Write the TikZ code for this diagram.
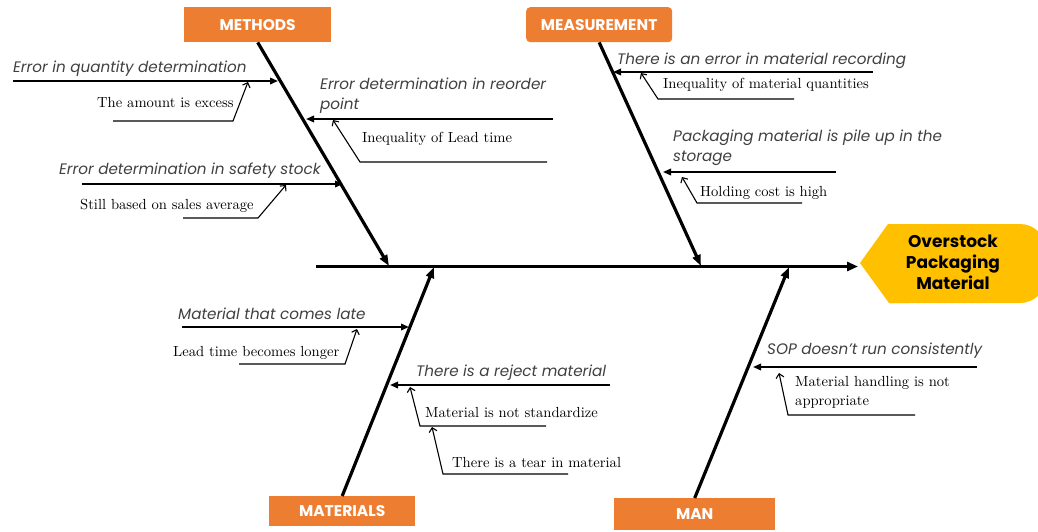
\documentclass[tikz,border=0pt]{standalone}
\usepackage{fontspec}
\newfontfamily\gothic{Poppins}
\newfontfamily\serifc{lmroman10-regular.otf}
\usetikzlibrary{arrows.meta}
\definecolor{orangeC}{HTML}{ED7D31}
\definecolor{yellowC}{HTML}{FFC000}
\definecolor{textgray}{HTML}{404040}
\begin{document}
\begin{tikzpicture}[x=1pt,y=-1pt,
  bone/.style={line width=3.2pt, -{Triangle[length=11pt,width=8pt]}},
  rib/.style={line width=1.8pt, -{Triangle[length=8pt,width=6.5pt]}},
  sub/.style={line width=1.1pt, -{Straight Barb[length=4pt,width=8pt]}},
  catbox/.style={fill=orangeC, text=white, font=\gothic\bfseries\fontsize{15.5}{18}\selectfont, minimum height=35pt, inner sep=0pt, anchor=north west},
  cause/.style={font=\gothic\itshape\fontsize{15.2}{19.5}\selectfont, text=textgray, anchor=west, inner sep=0pt, align=left},
  subc/.style={font=\serifc\fontsize{14.6}{19}\selectfont, anchor=west, inner sep=0pt, align=left}]
\useasboundingbox (0,0) rectangle (1038,531);
\clip (0,0) rectangle (1038,531);

% head
\fill[yellowC, rounded corners=26pt] (888,224) -- (1046,224) -- (1046,303) -- (889,303);
\fill[yellowC] (860,263) -- (888,224) -- (910,224) -- (910,303) -- (889,303) -- cycle;
\node[font=\gothic\bfseries\fontsize{17}{21}\selectfont, align=center, inner sep=0pt] (head) at (953,262) {Overstock\\Packaging\\Material};

% category boxes
\node[catbox, minimum width=147pt] (methods) at (184,7) {METHODS};
\node[catbox, minimum width=146pt, rounded corners=4pt] (meas) at (526,7) {MEASUREMENT};
\node[catbox, minimum width=146pt, minimum height=30pt] (mat) at (269,496) {MATERIALS};
\node[catbox, minimum width=161pt, minimum height=32pt] (man) at (614,498) {MAN};

% spine
\coordinate (spL) at (316,266.5);
\coordinate (spR) at (858,266.5);
\draw[line width=3.4pt, -{Triangle[length=11pt,width=9pt]}] (spL) -- (spR);

% bones
\coordinate (mEnd) at (389,266);
\coordinate (meEnd) at (701,266);
\coordinate (maEnd) at (434,267);
\coordinate (mnEnd) at (789,267);
\draw[bone] (methods.south) -- (mEnd);
\draw[bone] (meas.south) -- (meEnd);
\draw[bone] (mat.north) -- (maEnd);
\draw[bone] (man.north) -- (mnEnd);

% ---- METHODS ribs
\coordinate (q1) at (13,81); \coordinate (q2) at (278,81);
\draw[rib] (q1) -- (q2);
\node[cause] (tq) at (13,69) {Error in quantity determination};
\coordinate (s1) at (82,184); \coordinate (s2) at (343,184);
\draw[rib] (s1) -- (s2);
\node[cause] (ts) at (59,171) {Error determination in safety stock};
\coordinate (r1) at (553,119); \coordinate (r2) at (306,119);
\draw[rib] (r1) -- (r2);
\node[cause] (tr) at (320,95.5) {Error determination in reorder\\point};

\node[subc] (ta) at (97,103) {The amount is excess};
\coordinate (a1) at (113,121); \coordinate (a2) at (233,121); \coordinate (a3) at (248,82);
\draw[sub] (a1) -- (a2) -- (a3);
\node[subc] (tb) at (80,206) {Still based on sales average};
\coordinate (b1) at (183,218); \coordinate (b2) at (258,218); \coordinate (b3) at (286,185);
\draw[sub] (b1) -- (b2) -- (b3);
\node[subc] (tc) at (362,139) {Inequality of Lead time};
\coordinate (c1) at (547,162); \coordinate (c2) at (360,162); \coordinate (c3) at (333,120);
\draw[sub] (c1) -- (c2) -- (c3);

% ---- MEASUREMENT ribs
\coordinate (e1) at (873,72); \coordinate (e2) at (613,72);
\draw[rib] (e1) -- (e2);
\node[cause] (te) at (617,61) {There is an error in material recording};
\coordinate (p1) at (836,172); \coordinate (p2) at (663,172);
\draw[rib] (p1) -- (p2);
\node[cause] (tp) at (673,148) {Packaging material is pile up in the\\storage};

\node[subc] (td) at (663,85) {Inequality of material quantities};
\coordinate (d1) at (794,99); \coordinate (d2) at (658,99); \coordinate (d3) at (641,73);
\draw[sub] (d1) -- (d2) -- (d3);
\node[subc] (th) at (700,193) {Holding cost is high};
\coordinate (h1) at (802,203); \coordinate (h2) at (697,203); \coordinate (h3) at (682,177);
\draw[sub] (h1) -- (h2) -- (h3);

% ---- MATERIALS ribs
\coordinate (l1) at (182,327); \coordinate (l2) at (409,327);
\draw[rib] (l1) -- (l2);
\node[cause] (tl) at (178,314) {Material that comes late};
\coordinate (j1) at (610,385); \coordinate (j2) at (390,385);
\draw[rib] (j1) -- (j2);
\node[cause] (tj) at (416,373) {There is a reject material};

\node[subc] (tf) at (173,353) {Lead time becomes longer};
\coordinate (f1) at (239,364); \coordinate (f2) at (345,364); \coordinate (f3) at (357,329);
\draw[sub] (f1) -- (f2) -- (f3);
\node[subc] (tg) at (425,413) {Material is not standardize};
\coordinate (g1) at (546,426); \coordinate (g2) at (420,426); \coordinate (g3) at (410,387);
\draw[sub] (g1) -- (g2) -- (g3);
\node[subc] (tt) at (452,463) {There is a tear in material};
\coordinate (t1) at (568,474); \coordinate (t2) at (443,474); \coordinate (t3) at (432,427);
\draw[sub] (t1) -- (t2) -- (t3);

% ---- MAN ribs
\coordinate (o1) at (977,367); \coordinate (o2) at (753,367);
\draw[rib] (o1) -- (o2);
\node[cause] (to) at (767,351) {SOP doesn’t run consistently};
\node[subc] (ti) at (795,392.5) {Material handling is not\\appropriate};
\coordinate (i1) at (915,415); \coordinate (i2) at (788,415); \coordinate (i3) at (779,373);
\draw[sub] (i1) -- (i2) -- (i3);
\end{tikzpicture}
\end{document}
